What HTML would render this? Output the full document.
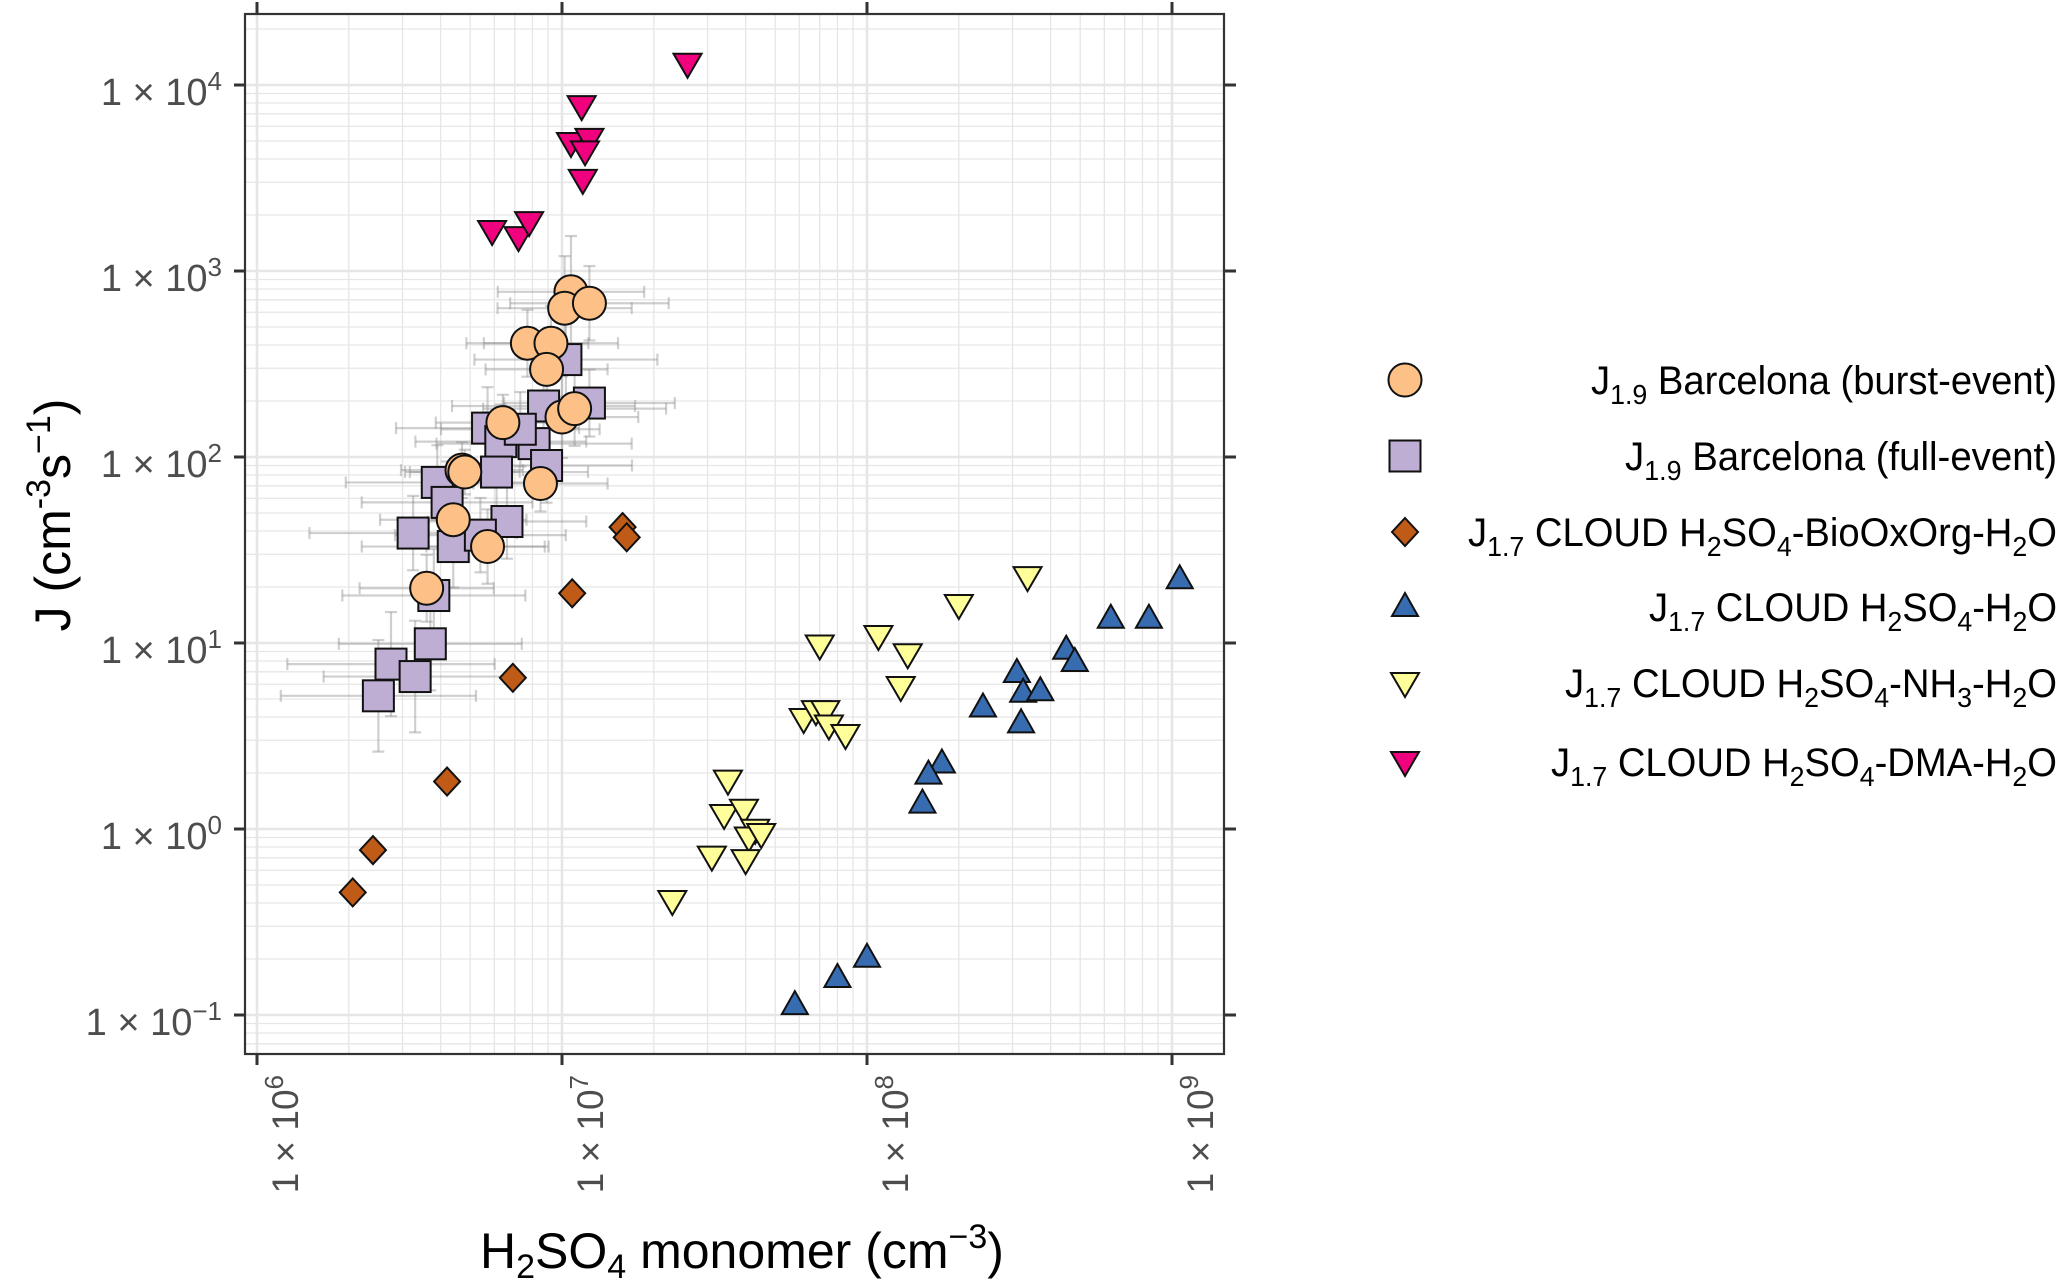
<!DOCTYPE html>
<html><head><meta charset="utf-8"><style>
html,body{margin:0;padding:0;background:#fff}
svg{display:block;font-family:"Liberation Sans",Arial,sans-serif}
</style></head><body>
<svg id="chart" width="2067" height="1282" viewBox="0 0 2067 1282" xmlns="http://www.w3.org/2000/svg">
<rect x="0" y="0" width="2067" height="1282" fill="#fff"/>
<g id="grid"></g>
<g id="errs"></g>
<g id="marks"></g>
<g id="axes"></g>
<g id="legend"></g>
<text x="480" y="1268" font-size="50" fill="#000">H<tspan font-size="34" dy="10">2</tspan><tspan dy="-10">SO</tspan><tspan font-size="34" dy="10">4</tspan><tspan dy="-10"> monomer (cm</tspan><tspan font-size="34" dy="-20">−3</tspan><tspan dy="20">)</tspan></text>
<text transform="translate(70,515) rotate(-90)" text-anchor="middle" font-size="50" fill="#000">J (cm<tspan font-size="34" dy="-20">-3</tspan><tspan dy="20">s</tspan><tspan font-size="34" dy="-20">−1</tspan><tspan dy="20">)</tspan></text>
</svg>
<script>
// ---- data ----
const burstX = [1.07e7,1.02e7,1.23e7,7.7e6,9.2e6,8.9e6,1.0e7,1.1e7,6.4e6,4.7e6,4.8e6,8.5e6,4.4e6,5.7e6,3.6e6];
const burstY = [773,631,671,409,409,296,164,182,153,85,83,72,46,33,19.7];
const burstErrX = [0.24,0.22,0.26,0.2,0.22,0.2,0.25,0.3,0.22,0.2,0.18,0.22,0.24,0.2,0.22];
const burstErrY = [0.3,0.28,0.2,0.18,0.2,0.2,0.22,0.2,0.15,0.15,0.12,0.15,0.16,0.2,0.18];
const fullX = [1.03e7,1.23e7,8.7e6,5.7e6,6.3e6,8.1e6,8.9e6,6.1e6,3.9e6,4.2e6,6.6e6,3.25e6,4.4e6,5.4e6,3.8e6,3.7e6,2.75e6,3.3e6,2.5e6,7.3e6];
const fullY = [334,195,188,143,121,118,90,83,73,57,45,39,33,38,18,9.9,7.7,6.6,5.2,141];
const fullErrX = [0.3,0.28,0.3,0.3,0.28,0.32,0.28,0.3,0.3,0.28,0.26,0.34,0.3,0.28,0.3,0.3,0.34,0.3,0.32,0.26];
const fullErrY = [0.2,0.18,0.2,0.22,0.2,0.2,0.2,0.22,0.2,0.22,0.2,0.2,0.22,0.2,0.25,0.25,0.28,0.3,0.3,0.2];
const bioX = [1.58e7,1.63e7,1.08e7,6.9e6,4.2e6,2.4e6,2.06e6];
const bioY = [42,37,18.5,6.5,1.8,0.77,0.456];
const waterX = [1.06e9,6.3e8,8.4e8,4.5e8,4.8e8,3.1e8,3.25e8,3.7e8,2.4e8,3.2e8,1.76e8,1.59e8,1.52e8,1.0e8,8.0e7,5.8e7];
const waterY = [22,13.5,13.5,9.2,7.9,6.9,5.4,5.5,4.5,3.7,2.25,1.96,1.37,0.203,0.158,0.113];
const nh3X = [3.36e8,2.0e8,1.09e8,7.0e7,1.36e8,1.29e8,6.2e7,6.8e7,7.3e7,7.5e7,8.5e7,3.5e7,3.4e7,3.95e7,4.3e7,4.1e7,4.5e7,3.1e7,4.0e7,2.3e7];
const nh3Y = [22.6,16,10.9,9.7,8.7,5.8,3.9,4.3,4.3,3.6,3.2,1.82,1.19,1.27,0.99,0.90,0.94,0.71,0.68,0.41];
const dmaX = [2.58e7,1.16e7,1.07e7,1.23e7,1.19e7,1.17e7,5.9e6,7.2e6,7.8e6];
const dmaY = [13000,7700,4880,5130,4400,3090,1640,1520,1830];
const xTickExp = [6,7,8,9];
const yTickExp = [-1,0,1,2,3,4];

// ---- scales ----
const X0=257, XD=305, Y0=829, YD=186;
const PL=245, PR=1224, PT=14, PB=1054;
function sx(v){return X0+(Math.log10(v)-6)*XD;}
function sy(v){return Y0-Math.log10(v)*YD;}
const NS="http://www.w3.org/2000/svg";
function mk(tag,attrs,parent){const e=document.createElementNS(NS,tag);for(const k in attrs)e.setAttribute(k,attrs[k]);parent.appendChild(e);return e;}

// grid
const grid=document.getElementById('grid');
for(let e=5;e<=9;e++){for(let m=1;m<=9;m++){const v=m*Math.pow(10,e);const x=sx(v);if(x<PL||x>PR)continue;
 const l=mk('line',{x1:x,x2:x,y1:PT,y2:PB,stroke:'#e6e6e6','stroke-width':m===1?2.6:1.3},grid);
 
 }}
for(let e=-2;e<=4;e++){for(let m=1;m<=9;m++){const v=m*Math.pow(10,e);const y=sy(v);if(y<PT||y>PB)continue;
 const l=mk('line',{x1:PL,x2:PR,y1:y,y2:y,stroke:'#e6e6e6','stroke-width':m===1?2.6:1.3},grid);
 
 }}

// error bars
const errs=document.getElementById('errs');
function errBars(xs,ys,ex,ey){for(let i=0;i<xs.length;i++){const cx=sx(xs[i]),cy=sy(ys[i]);
 const x1=cx-ex[i]*XD,x2=cx+ex[i]*XD,y1=cy-ey[i]*YD,y2=cy+ey[i]*YD;
 const g=mk('g',{stroke:'#888','stroke-opacity':0.4,'stroke-width':2.2},errs);
 
 
 mk('line',{x1:x1,x2:x2,y1:cy,y2:cy},g);mk('line',{x1:x1,x2:x1,y1:cy-6,y2:cy+6},g);mk('line',{x1:x2,x2:x2,y1:cy-6,y2:cy+6},g);
 mk('line',{x1:cx,x2:cx,y1:y1,y2:y2},g);mk('line',{x1:cx-6,x2:cx+6,y1:y1,y2:y1},g);mk('line',{x1:cx-6,x2:cx+6,y1:y2,y2:y2},g);}}
errBars(fullX,fullY,fullErrX,fullErrY);
errBars(burstX,burstY,burstErrX,burstErrY);

// markers
function shape(kind,cx,cy,fill,parent){
 const st={fill:fill,stroke:'#111','stroke-width':2};
 if(kind==='circle')return mk('circle',Object.assign({cx:cx,cy:cy,r:16.5},st),parent);
 if(kind==='square')return mk('rect',Object.assign({x:cx-15.5,y:cy-15.5,width:31,height:31},st),parent);
 if(kind==='diamond')return mk('polygon',Object.assign({points:`${cx},${cy-14} ${cx+13},${cy} ${cx},${cy+14} ${cx-13},${cy}`},st),parent);
 if(kind==='up')return mk('polygon',Object.assign({points:`${cx},${cy-14} ${cx+13},${cy+9} ${cx-13},${cy+9}`},st),parent);
 if(kind==='down')return mk('polygon',Object.assign({points:`${cx-14},${cy-10} ${cx+14},${cy-10} ${cx},${cy+14}`},st),parent);
}
const marks=document.getElementById('marks');
const series=[
 {n:'bio',x:bioX,y:bioY,k:'diamond',c:'#BF5B17'},
 {n:'water',x:waterX,y:waterY,k:'up',c:'#386CB0'},
 {n:'nh3',x:nh3X,y:nh3Y,k:'down',c:'#FFFF99'},
 {n:'full',x:fullX,y:fullY,k:'square',c:'#BEAED4'},
 {n:'burst',x:burstX,y:burstY,k:'circle',c:'#FDC086'},
 {n:'dma',x:dmaX,y:dmaY,k:'down',c:'#F0027F'}];
series.forEach(s=>{for(let i=0;i<s.x.length;i++){const e=shape(s.k,sx(s.x[i]),sy(s.y[i]),s.c,marks);
 
 }});

// axes
const axes=document.getElementById('axes');
const border=mk('rect',{x:PL,y:PT,width:PR-PL,height:PB-PT,fill:'none',stroke:'#333','stroke-width':2.2},axes);


xTickExp.forEach(e=>{const x=sx(Math.pow(10,e));
 mk('line',{x1:x,x2:x,y1:PB,y2:PB+11,stroke:'#333','stroke-width':3},axes);
 mk('line',{x1:x,x2:x,y1:PT,y2:PT-12,stroke:'#333','stroke-width':3},axes);
 const t=mk('text',{transform:`translate(${x+41},1075) rotate(-90)`,'text-anchor':'end','font-size':37,fill:'#4d4d4d'},axes);
 
 
 t.innerHTML=`1 × 10<tspan font-size="26" dy="-15">${e}</tspan>`;});
yTickExp.forEach(e=>{const y=sy(Math.pow(10,e));
 mk('line',{x1:PL,x2:PL-11,y1:y,y2:y,stroke:'#333','stroke-width':3},axes);
 mk('line',{x1:PR,x2:PR+12,y1:y,y2:y,stroke:'#333','stroke-width':3},axes);
 const t=mk('text',{x:222,y:y+20,'text-anchor':'end','font-size':38,fill:'#4d4d4d'},axes);
 
 
 t.innerHTML=`1 × 10<tspan font-size="26" dy="-15">${e<0?'−'+(-e):e}</tspan>`;});

// legend
const legend=document.getElementById('legend');
const legKinds=['circle','square','diamond','up','down','down'];
const legColors=['#FDC086','#BEAED4','#BF5B17','#386CB0','#FFFF99','#F0027F'];
const legY=[380,456,532,607,683,762];
const legW=[466,432,589,408,492,506];
const S='<tspan font-size="28" dy="10">', E='</tspan><tspan dy="-10">';
const legText=[
 `J${S}1.9${E} Barcelona (burst-event)</tspan>`,
 `J${S}1.9${E} Barcelona (full-event)</tspan>`,
 `J${S}1.7${E} CLOUD H</tspan>${S}2${E}SO</tspan>${S}4${E}-BioOxOrg-H</tspan>${S}2${E}O</tspan>`,
 `J${S}1.7${E} CLOUD H</tspan>${S}2${E}SO</tspan>${S}4${E}-H</tspan>${S}2${E}O</tspan>`,
 `J${S}1.7${E} CLOUD H</tspan>${S}2${E}SO</tspan>${S}4${E}-NH</tspan>${S}3${E}-H</tspan>${S}2${E}O</tspan>`,
 `J${S}1.7${E} CLOUD H</tspan>${S}2${E}SO</tspan>${S}4${E}-DMA-H</tspan>${S}2${E}O</tspan>`];
for(let i=0;i<6;i++){
 const g=mk('g',{},legend);
 
 
 shape(legKinds[i],1405,legY[i],legColors[i],g);
 const t=mk('text',{x:2057-legW[i],y:legY[i]+14,'font-size':40,fill:'#000',textLength:legW[i],lengthAdjust:'spacingAndGlyphs'},g);
 
 
 t.innerHTML=legText[i];
}
</script>
</body></html>
